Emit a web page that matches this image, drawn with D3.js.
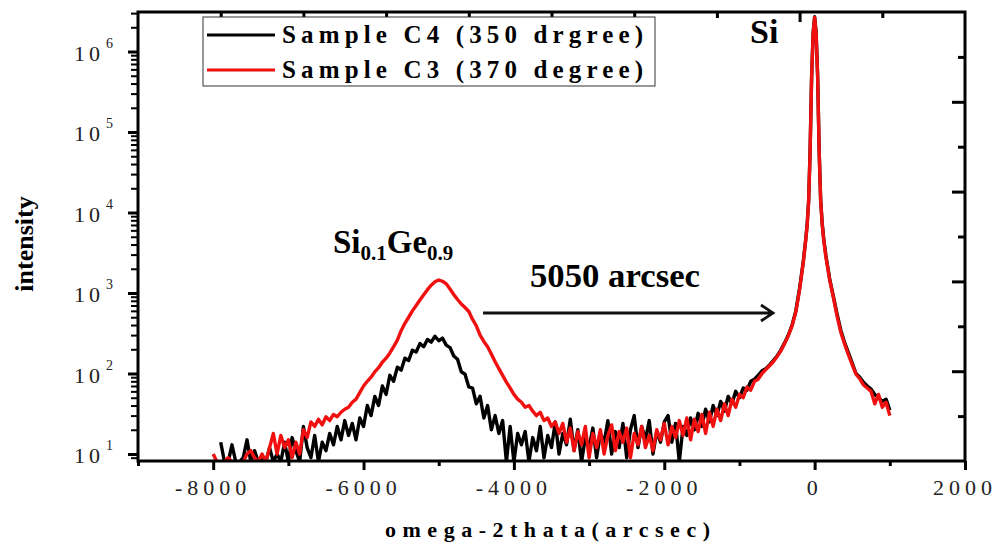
<!DOCTYPE html>
<html lang="en">
<head>
<meta charset="UTF-8">
<title>omega-2theta scan</title>
<script src="https://d3js.org/d3.v7.min.js"></script>
<style>
  body { margin: 0; background: #fff; }
  svg { display: block; font-family: "Liberation Serif", "Times New Roman", serif; }
</style>
</head>
<body>
<svg id="chart"></svg>
<script>
// omega-2theta positions (arcsec)
const angle = [
  -8000,-7950,-7900,-7850,-7800,-7750,-7700,-7650,-7600,-7550,
  -7500,-7450,-7400,-7350,-7300,-7250,-7200,-7150,-7100,-7050,
  -7000,-6950,-6900,-6850,-6800,-6750,-6700,-6650,-6600,-6550,
  -6500,-6450,-6400,-6350,-6300,-6250,-6200,-6150,-6100,-6050,
  -6000,-5950,-5900,-5850,-5800,-5750,-5700,-5650,-5600,-5550,
  -5500,-5450,-5400,-5350,-5300,-5250,-5200,-5150,-5100,-5050,
  -5000,-4950,-4900,-4850,-4800,-4750,-4700,-4650,-4600,-4550,
  -4500,-4450,-4400,-4350,-4300,-4250,-4200,-4150,-4100,-4050,
  -4000,-3950,-3900,-3850,-3800,-3750,-3700,-3650,-3600,-3550,
  -3500,-3450,-3400,-3350,-3300,-3250,-3200,-3150,-3100,-3050,
  -3000,-2950,-2900,-2850,-2800,-2750,-2700,-2650,-2600,-2550,
  -2500,-2450,-2400,-2350,-2300,-2250,-2200,-2150,-2100,-2050,
  -2000,-1950,-1900,-1850,-1800,-1750,-1700,-1650,-1600,-1550,
  -1500,-1450,-1400,-1350,-1300,-1250,-1200,-1150,-1100,-1050,
  -1000,-950,-900,-850,-800,-750,-700,-650,-600,-550,
  -500,-450,-400,-350,-300,
  -250,-200,-150,-120,-100,-80,-60,-40,-20,0,20,40,60,80,100,120,150,200,250,
  300,350,400,450,500,550,600,650,700,750,800,850,900,950,1000
];

// Sample C4 (black)
const c4 = [
  null,null,14,8,8,13,8,8,9,15,
  8,11,8,9,8,12,8,10,8,14,
  8,16,11,8,22,12,9,17,8,14,
  11,18,13,22,15,26,17,24,15,28,
  22,40,30,52,40,70,55,95,80,120,
  110,155,145,195,185,235,215,265,245,290,
  255,275,225,210,165,150,105,98,68,66,
  42,52,28,40,20,30,18,26,8,22,
  8,18,13,19,8,16,11,22,9,17,
  12,25,10,18,13,27,11,20,8,16,
  12,21,9,18,14,26,10,19,12,24,
  9,20,30,12,22,15,26,10,19,14,
  25,30,14,24,8,22,17,28,20,32,
  22,36,25,40,30,45,34,52,42,60,
  50,66,62,80,85,95,108,115,128,145,
  165,195,240,300,400,
  600,1150,2500,4500,7000,14000,60000,500000,1700000,2700000,1700000,500000,60000,14500,7500,4800,2900,1500,900,
  540,340,240,180,135,100,90,78,70,64,55,50,45,48,35
];

// Sample C3 (red)
const c3 = [
  10,8,8,8,9,8,8,8,8,10,
  11,9,8,10,8,12,18,10,17,12,
  15,9,14,10,20,16,25,22,27,23,
  29,26,31,29,33,36,38,44,48,58,
  70,80,90,105,118,138,155,180,215,260,
  340,420,500,600,700,820,950,1100,1250,1380,
  1450,1400,1300,1120,960,830,730,660,590,470,
  390,300,250,215,175,140,115,95,78,66,
  55,48,44,38,40,34,30,33,26,28,
  22,25,18,24,14,21,11,19,13,22,
  9,18,12,20,10,17,23,11,19,14,
  21,9,18,13,22,12,17,11,20,15,
  24,13,22,16,26,17,28,15,27,19,
  31,18,33,22,36,26,42,30,48,38,
  55,50,68,62,80,85,100,112,125,140,
  162,190,235,295,390,
  580,1100,2450,4400,6800,13500,58000,480000,1650000,2650000,1650000,480000,58000,14000,7200,4600,2800,1450,870,
  510,320,230,170,128,98,86,72,66,60,42,55,38,44,30
];

const xTicks = [-8000, -6000, -4000, -2000, 0, 2000];
const yExponents = [1, 2, 3, 4, 5, 6];
const seriesNames = ["Sample C4 (350 drgree)", "Sample C3 (370 degree)"];
const seriesColors = ["#000000", "#f01010"];

const width = 998, height = 546;
const plotLeft = 138, plotRight = 965, plotTop = 12, plotBottom = 461;

const svg = d3.select("#chart").attr("width", width).attr("height", height);

const x = d3.scaleLinear().domain([-9000, 2000]).range([plotLeft, plotRight]);
const y = d3.scaleLog().domain([Math.pow(10, 0.913), Math.pow(10, 6.491)]).range([plotBottom, plotTop]);

svg.append("defs").append("clipPath").attr("id", "plot-clip")
  .append("rect").attr("x", plotLeft).attr("y", plotTop)
  .attr("width", plotRight - plotLeft).attr("height", plotBottom - plotTop);

// curves
const line = d3.line()
  .defined(d => d[1] != null)
  .x(d => x(d[0]))
  .y(d => y(d[1]));

const curves = svg.append("g").attr("clip-path", "url(#plot-clip)");
[c4, c3].forEach((vals, i) => {
  curves.append("path")
    .datum(angle.map((a, j) => [a, vals[j]]))
    .attr("d", line)
    .attr("fill", "none")
    .attr("stroke", seriesColors[i])
    .attr("stroke-width", 3.4)
    .attr("stroke-linejoin", "round");
});

// axes
function styleAxis(g, w) {
  g.select(".domain").remove();
  g.selectAll(".tick line").attr("stroke", "#000").attr("stroke-width", w);
  g.selectAll(".tick text").remove();
}

// bottom
svg.append("g").attr("transform", `translate(0,${plotBottom})`)
  .call(d3.axisBottom(x).tickValues(xTicks).tickSize(9))
  .call(g => styleAxis(g, 3));
svg.append("g").attr("transform", `translate(0,${plotBottom})`)
  .call(d3.axisBottom(x).tickValues(d3.range(-9000, 2000, 2000)).tickSize(5))
  .call(g => styleAxis(g, 3));

svg.append("g").selectAll("text").data(xTicks).join("text")
  .attr("x", d => x(d))
  .attr("y", 495)
  .attr("text-anchor", "middle")
  .attr("font-size", 22)
  .attr("letter-spacing", 5)
  .attr("fill", "#222")
  .text(d => d);

// left
const decades = yExponents.map(e => Math.pow(10, e));
svg.append("g").attr("transform", `translate(${plotLeft},0)`)
  .call(d3.axisLeft(y).tickValues(decades).tickSize(10))
  .call(g => styleAxis(g, 3));
svg.append("g").attr("transform", `translate(${plotLeft},0)`)
  .call(d3.axisLeft(y).tickValues(y.ticks().filter(v => !decades.includes(v))).tickSize(7))
  .call(g => styleAxis(g, 2));

const yLab = svg.append("g").selectAll("g").data(yExponents).join("g")
  .attr("transform", d => `translate(0,${y(Math.pow(10, d))})`);
yLab.append("text")
  .attr("x", 104).attr("y", 9)
  .attr("text-anchor", "end")
  .attr("font-size", 22)
  .attr("letter-spacing", 4)
  .attr("fill", "#222")
  .text("10");
yLab.append("text")
  .attr("x", 106).attr("y", -4)
  .attr("font-size", 14)
  .attr("fill", "#222")
  .text(d => d);

// top and right (unlabelled, inward)
const tx = d3.scaleLinear().domain([0, 10]).range([plotLeft, plotRight]);
const ry = d3.scaleLinear().domain([0, 10]).range([plotBottom, plotTop]);
svg.append("g").attr("transform", `translate(0,${plotTop})`)
  .call(d3.axisTop(tx).tickValues([2, 4, 6, 8]).tickSize(-10))
  .call(g => styleAxis(g, 3));
svg.append("g").attr("transform", `translate(0,${plotTop})`)
  .call(d3.axisTop(tx).tickValues([1, 3, 5, 7, 9]).tickSize(-6))
  .call(g => styleAxis(g, 3));
svg.append("g").attr("transform", `translate(${plotRight},0)`)
  .call(d3.axisRight(ry).tickValues([2, 4, 6, 8]).tickSize(-13))
  .call(g => styleAxis(g, 3));
svg.append("g").attr("transform", `translate(${plotRight},0)`)
  .call(d3.axisRight(ry).tickValues([1, 3, 5, 7, 9]).tickSize(-7))
  .call(g => styleAxis(g, 3));

// frame
svg.append("rect")
  .attr("x", plotLeft).attr("y", plotTop)
  .attr("width", plotRight - plotLeft).attr("height", plotBottom - plotTop)
  .attr("fill", "none").attr("stroke", "#000").attr("stroke-width", 3);

// axis titles
svg.append("text")
  .attr("transform", "translate(33,244) rotate(-90)")
  .attr("text-anchor", "middle")
  .attr("font-size", 26)
  .attr("font-weight", "bold")
  .text("intensity");

svg.append("text")
  .attr("x", 385).attr("y", 537)
  .attr("font-size", 22)
  .attr("font-weight", "bold")
  .attr("textLength", 325)
  .attr("lengthAdjust", "spacing")
  .text("omega-2thata(arcsec)");

// legend
const legend = svg.append("g");
legend.append("rect")
  .attr("x", 203).attr("y", 17).attr("width", 452).attr("height", 69)
  .attr("fill", "#fff").attr("stroke", "#333").attr("stroke-width", 1);
seriesNames.forEach((name, i) => {
  const ly = 35 + i * 35;
  legend.append("line")
    .attr("x1", 207).attr("x2", 275).attr("y1", ly).attr("y2", ly)
    .attr("stroke", seriesColors[i]).attr("stroke-width", 3);
  legend.append("text")
    .attr("x", 282).attr("y", ly + 8)
    .attr("font-size", 25)
    .attr("font-weight", "bold")
    .attr("textLength", 361)
    .attr("lengthAdjust", "spacing")
    .text(name);
});

// annotations
svg.append("text")
  .attr("x", 750).attr("y", 43)
  .attr("font-size", 34).attr("font-weight", "bold")
  .text("Si");

const sige = svg.append("text")
  .attr("x", 333).attr("y", 253)
  .attr("font-size", 33).attr("font-weight", "bold");
sige.append("tspan").text("Si");
sige.append("tspan").attr("font-size", 21).attr("dy", 7).text("0.1");
sige.append("tspan").attr("dy", -7).text("Ge");
sige.append("tspan").attr("font-size", 21).attr("dy", 7).text("0.9");

svg.append("text")
  .attr("x", 530).attr("y", 287)
  .attr("font-size", 34).attr("font-weight", "bold")
  .attr("textLength", 170)
  .attr("lengthAdjust", "spacingAndGlyphs")
  .text("5050 arcsec");

svg.append("path")
  .attr("d", "M483,313H772M761,305L773,313L761,321")
  .attr("fill", "none")
  .attr("stroke", "#111")
  .attr("stroke-width", 2.8);
</script>
</body>
</html>
